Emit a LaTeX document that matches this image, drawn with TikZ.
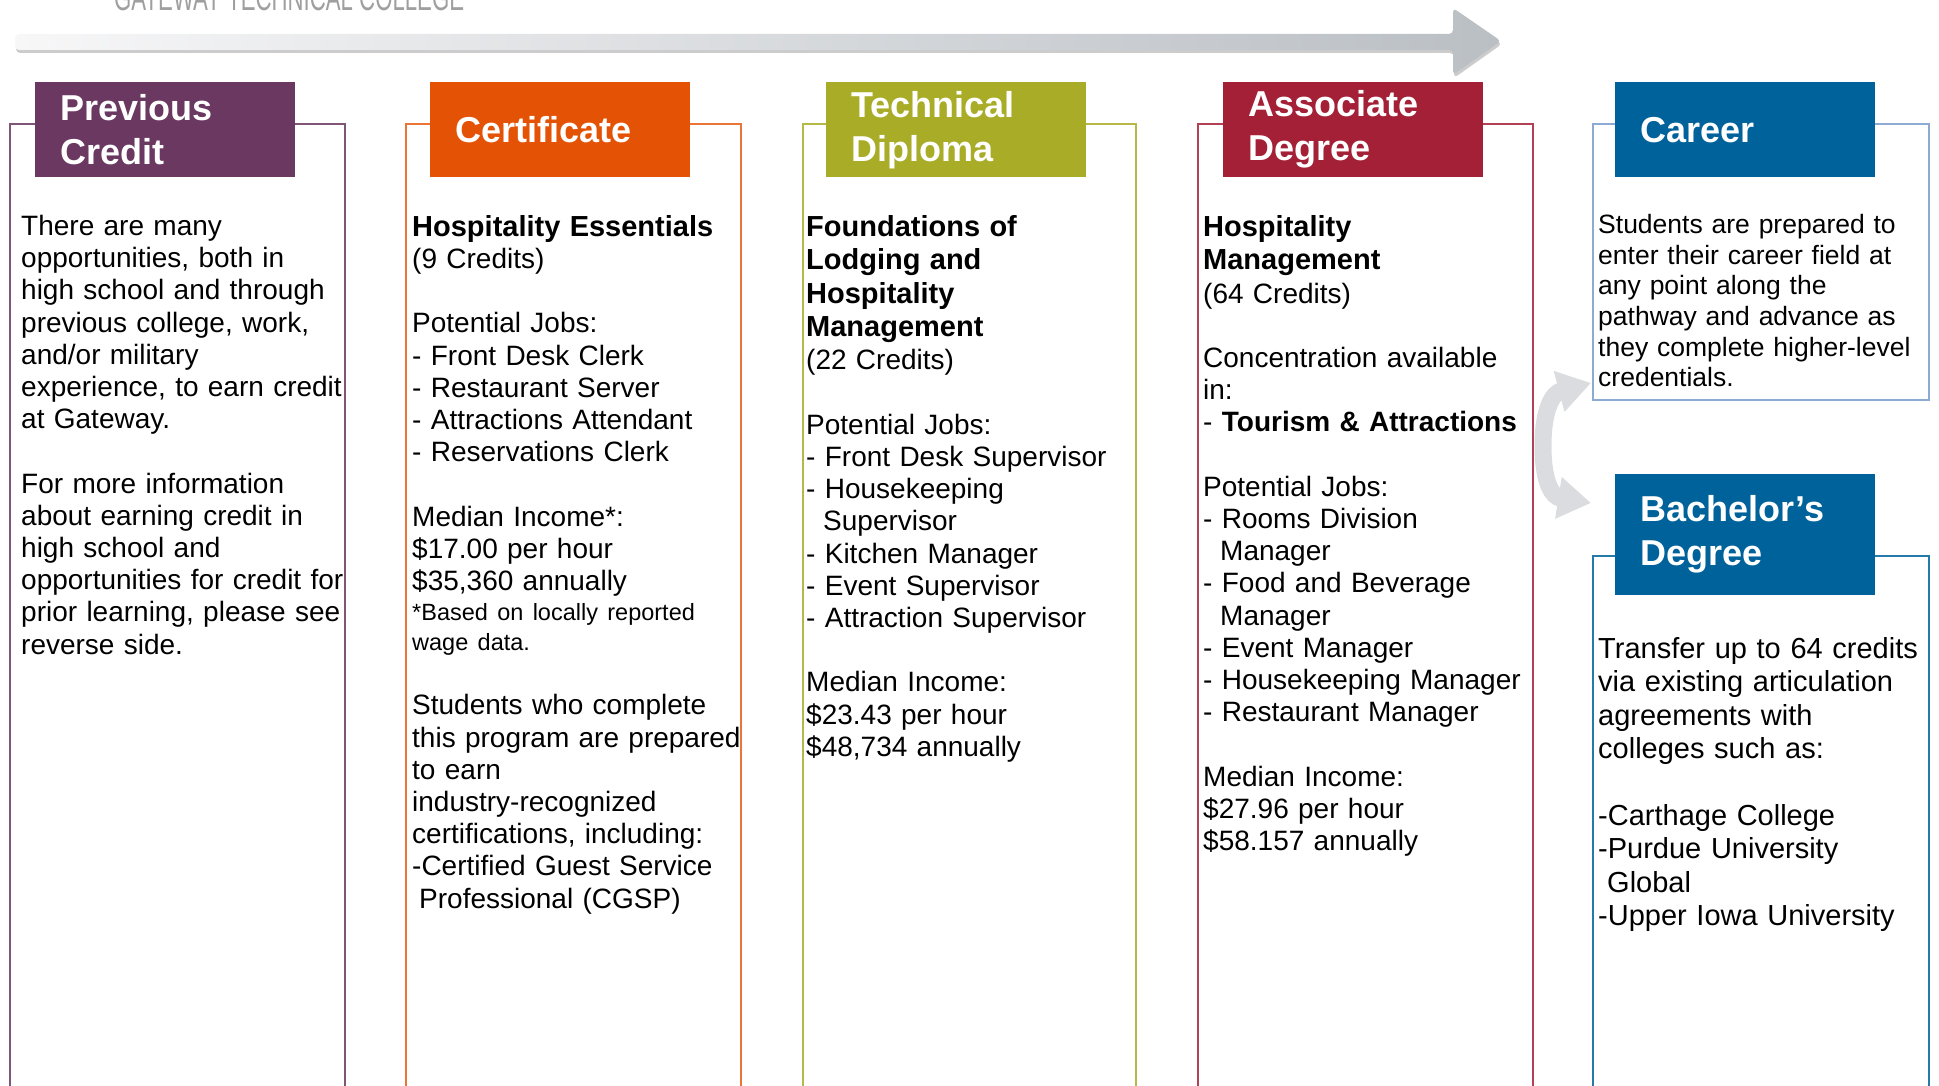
\documentclass[tikz,border=0pt]{standalone}
\usepackage{fontspec}
\setmainfont{Liberation Sans}
\usepackage{tikz}
\usetikzlibrary{arrows.meta}

\definecolor{prevcol}{RGB}{106,56,96}
\definecolor{certcol}{RGB}{227,82,5}
\definecolor{techcol}{RGB}{169,172,38}
\definecolor{assoccol}{RGB}{163,32,54}
\definecolor{carcol}{RGB}{0,98,155}
\definecolor{carline}{RGB}{140,170,210}
\definecolor{arrowlight}{RGB}{247,247,248}
\definecolor{arrowdark}{RGB}{186,191,196}
\definecolor{flowgray}{RGB}{218,220,224}

\newcommand{\headfont}{\fontsize{36}{44}\selectfont\bfseries}
\newcommand{\bodyfont}{\fontsize{28}{32.2}\selectfont}
\newcommand{\notefont}{\fontsize{23.5}{30}\selectfont}
\newcommand{\ptitle}[1]{{\fontsize{29}{33.4}\selectfont\bfseries #1}}
\newcommand{\blankrow}{\par\vspace{\baselineskip}\noindent}
\newcommand{\jobindent}{\hspace*{17pt}}

\tikzset{
    head/.style={fill=#1, text=white, font=\headfont, anchor=north west,
        text width=210pt, inner xsep=25pt, inner ysep=0pt,
        minimum height=95pt, align=left},
    body/.style={font=\bodyfont, anchor=north west, inner sep=0pt,
        text width=420pt, align=left},
    panel/.style={draw=#1, line width=1.4pt},
    flow/.style={draw=flowgray, line width=17pt,
        -{Triangle[length=33pt, width=40pt]}}
}

\begin{document}
\begin{tikzpicture}[x=1pt, y=-1pt]
        % page frame, the college name is cut at the top
        \useasboundingbox (0,0) rectangle (1939,1086);
        \clip (0,0) rectangle (1939,1086);
        \def\rimy{124}
        \def\ybase{1095}
        \def\texty{215}

        % college name
        \node[anchor=base west, inner sep=0pt, text=gray!75,
            font=\fontsize{37}{40}\selectfont] (college) at (114,11)
            {\scalebox{0.6}[1]{GATEWAY TECHNICAL COLLEGE}};

        % shadow of the pathway arrow
        \fill[gray!40, rounded corners=4pt] (16,37) -- (1454,37) -- (1454,11)
            -- (1502,44) -- (1454,78) -- (1454,53) -- (16,53) -- cycle;
        % pathway arrow
        \shade[left color=arrowlight, right color=arrowdark, rounded corners=4pt]
            (15,34) -- (1453,34) -- (1453,8) -- (1501,41) -- (1453,75)
            -- (1453,50) -- (15,50) -- cycle;

        % column frames
        \draw[panel=prevcol!85] (10,\ybase) |- (345,\rimy) -- (345,\ybase);
        \draw[panel=certcol!80] (406,\ybase) |- (741,\rimy) -- (741,\ybase);
        \draw[panel=techcol!85] (803,\ybase) |- (1136,\rimy) -- (1136,\ybase);
        \draw[panel=assoccol!85] (1198,\ybase) |- (1533,\rimy) -- (1533,\ybase);
        \draw[panel=carline] (1593,\rimy) rectangle (1929,400);
        \draw[panel=carcol!85] (1593,\ybase) |- (1929,556) -- (1929,\ybase);

        % split arrows to career and bachelor
        \coordinate (fork) at (1543,446);
        \coordinate (careertip) at (1591,383);
        \coordinate (bachtip) at (1591,503);
        \draw[flow] (fork) .. controls +(0,-38) and +(-38,10) .. (careertip);
        \draw[flow] (fork) .. controls +(0,38) and +(-38,-6) .. (bachtip);

        % headings
        \node[head=prevcol] (prev) at (35,82) {Previous\\Credit};
        \node[head=certcol] (cert) at (430,82) {Certificate};
        \node[head=techcol] (tech) at (826,82) {Technical\\Diploma};
        \node[head=assoccol] (assoc) at (1223,82) {Associate\\Degree};
        \node[head=carcol] (career) at (1615,82) {Career};
        \node[head=carcol, minimum height=121pt] (bach) at (1615,474) {Bachelor’s\\Degree};

        % previous credit
        \node[body] (prevtext) at (21,\texty) {There are many\\
            opportunities, both in\\
            high school and through\\
            previous college, work,\\
            and/or military\\
            experience, to earn credit\\
            at Gateway.\blankrow
            For more information\\
            about earning credit in\\
            high school and\\
            opportunities for credit for\\
            prior learning, please see\\
            reverse side.};

        % certificate
        \node[body] (certtext) at (412,\texty) {\ptitle{Hospitality Essentials}\\
            (9 Credits)\blankrow
            Potential Jobs:\\
            - Front Desk Clerk\\
            - Restaurant Server\\
            - Attractions Attendant\\
            - Reservations Clerk\blankrow
            Median Income*:\\
            \$17.00 per hour\\
            \$35,360 annually\par
            {\notefont\noindent *Based on locally reported\\ wage data.\par}
            \vspace{\baselineskip}\noindent
            Students who complete\\
            this program are prepared\\
            to earn\\
            industry-recognized\\
            certifications, including:\\
            -Certified Guest Service\\
            \hspace*{7pt}Professional (CGSP)};

        % technical diploma
        \node[body] (techtext) at (806,\texty) {{\baselineskip=33.4pt
            \ptitle{Foundations of\\ Lodging and\\ Hospitality\\ Management}\\
            (22 Credits)\par}\vspace{\baselineskip}\noindent
            Potential Jobs:\\
            - Front Desk Supervisor\\
            - Housekeeping\\
            \jobindent Supervisor\\
            - Kitchen Manager\\
            - Event Supervisor\\
            - Attraction Supervisor\blankrow
            Median Income:\\
            \$23.43 per hour\\
            \$48,734 annually};

        % associate degree
        \node[body] (assoctext) at (1203,\texty) {{\baselineskip=33.4pt
            \ptitle{Hospitality\\ Management}\\
            (64 Credits)\par}\vspace{\baselineskip}\noindent
            Concentration available\\
            in:\\
            - \textbf{Tourism \& Attractions}\blankrow
            Potential Jobs:\\
            - Rooms Division\\
            \jobindent Manager\\
            - Food and Beverage\\
            \jobindent Manager\\
            - Event Manager\\
            - Housekeeping Manager\\
            - Restaurant Manager\blankrow
            Median Income:\\
            \$27.96 per hour\\
            \$58.157 annually};

        % career
        \node[body, font=\fontsize{26.5}{30.7}\selectfont] (careertext) at (1598,214)
            {Students are prepared to\\
            enter their career field at\\
            any point along the\\
            pathway and advance as\\
            they complete higher-level\\
            credentials.};

        % bachelor's degree
        \node[body, font=\fontsize{29}{33.4}\selectfont] (bachtext) at (1598,637)
            {Transfer up to 64 credits\\
            via existing articulation\\
            agreements with\\
            colleges such as:\blankrow
            -Carthage College\\
            -Purdue University\\
            \hspace*{9pt}Global\\
            -Upper Iowa University};
\end{tikzpicture}
\end{document}
